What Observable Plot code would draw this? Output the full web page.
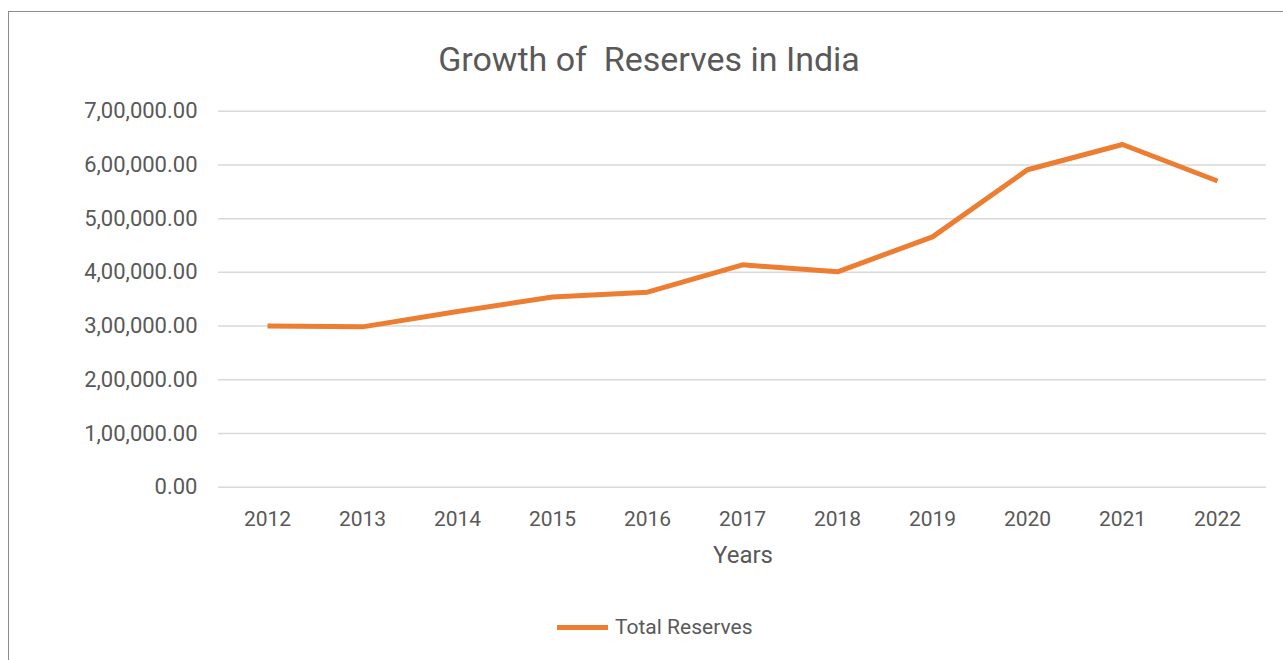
<!DOCTYPE html>
<html>
<head>
<meta charset="utf-8">
<script src="https://cdn.jsdelivr.net/npm/d3@7"></script>
<script src="https://cdn.jsdelivr.net/npm/@observablehq/plot@0.6"></script>
<style>
  html, body { margin: 0; padding: 0; background: #fff; overflow: hidden; }
  #wrap { position: relative; width: 1283px; height: 660px; overflow: hidden; font-family: Roboto, "Open Sans", sans-serif; color: #595959; }
  #frame { position: absolute; left: 8px; top: 11px; width: 1400px; height: 800px; border: 1px solid #8c8c8c; box-sizing: border-box; }
  #title { position: absolute; left: 649px; top: 39px; transform: translateX(-50%); font-size: 34px; line-height: 40px; white-space: pre; color: #595959; }
  #chart { position: absolute; left: 0; top: 90px; }
  #xlabel { position: absolute; left: 743px; top: 541px; transform: translateX(-50%); font-size: 24px; line-height: 28px; white-space: pre; }
  #legend { position: absolute; left: 557px; top: 612px; height: 30px; display: flex; align-items: center; font-size: 21px; white-space: pre; }
  #legend .swatch { width: 51px; height: 5px; background: #ED7D31; margin-right: 7px; }
</style>
</head>
<body>
<div id="wrap">
  <div id="frame"></div>
  <div id="title"></div>
  <div id="chart"></div>
  <div id="xlabel"></div>
  <div id="legend"></div>
</div>
<script>
const titleText = "Growth of  Reserves in India";
const xAxisTitle = "Years";
const seriesName = "Total Reserves";
const years = ["2012","2013","2014","2015","2016","2017","2018","2019","2020","2021","2022"];
const totalReserves = [300000, 298500, 327000, 354000, 363000, 414000, 401000, 466000, 591000, 638000, 570000];
const yTicks = [0, 100000, 200000, 300000, 400000, 500000, 600000, 700000];

function indianFormat(d) {
  const s = String(Math.round(d));
  let out;
  if (s.length > 3) {
    const last3 = s.slice(-3);
    const rest = s.slice(0, -3).replace(/\B(?=(\d{2})+(?!\d))/g, ",");
    out = rest + "," + last3;
  } else out = s;
  return out + ".00";
}

const data = years.map((y, i) => ({year: y, value: totalReserves[i]}));

document.getElementById("title").textContent = titleText;
document.getElementById("xlabel").textContent = xAxisTitle;
const leg = document.getElementById("legend");
const sw = document.createElement("span"); sw.className = "swatch"; leg.appendChild(sw);
const lt = document.createElement("span"); lt.textContent = seriesName; leg.appendChild(lt);

const plot = Plot.plot({
  width: 1283,
  height: 490,
  marginLeft: 218,
  marginRight: 17,
  marginTop: 20.7,
  marginBottom: 93.3,
  style: {fontFamily: "Roboto, 'Open Sans', sans-serif", color: "#595959", background: "transparent"},
  x: {type: "point", domain: years, padding: 0.5},
  y: {domain: [0, 700000]},
  marks: [
    Plot.ruleY(yTicks, {stroke: "#d9d9d9", strokeWidth: 1.5}),
    Plot.axisY({ticks: yTicks, tickFormat: indianFormat, tickSize: 0, tickPadding: 21, fontSize: 22, label: null}),
    Plot.axisX({tickSize: 0, tickPadding: 24, fontSize: 21, label: null}),
    Plot.line(data, {x: "year", y: "value", stroke: "#ED7D31", strokeWidth: 5, strokeLinejoin: "round", strokeLinecap: "butt"})
  ]
});
document.getElementById("chart").appendChild(plot);
</script>
</body>
</html>
